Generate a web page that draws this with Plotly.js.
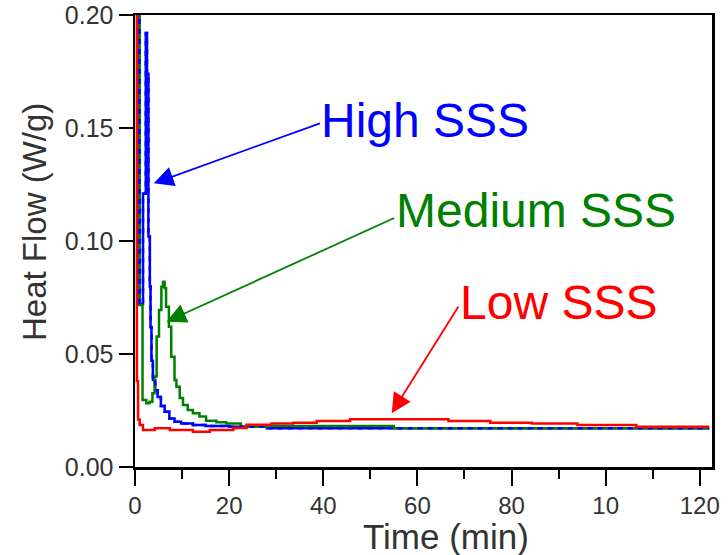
<!DOCTYPE html>
<html>
<head>
<meta charset="utf-8">
<script src="https://cdn.plot.ly/plotly-3.0.1.min.js"></script>
<style>html,body{margin:0;padding:0;background:#fff;}#chart{width:728px;height:555px;}</style>
</head>
<body>
<div id="chart"></div>
<script>
// Time (min) and heat flow (W/g) (step-wise instrument data)
const lowT   = [0.4, 0.4, 0.65, 1.0, 1.7, 4.2, 7.4, 12.3, 15.9, 20.9, 23.7, 29, 33.6, 38.6, 45.7, 66.6, 75.5, 84.3, 94, 106.5, 122];
const lowV   = [0.30, 0.038, 0.021, 0.0186, 0.0164, 0.0172, 0.0164, 0.0156, 0.0164, 0.0173, 0.0187, 0.0192, 0.0196, 0.0204, 0.0211, 0.0204, 0.0196, 0.0192, 0.0186, 0.0178, 0.0178];

const medT   = [0.95, 0.95, 1.6, 2.4, 3.1, 3.7, 4.15, 4.6, 5.1, 5.6, 5.95, 6.3, 6.6, 7.2, 7.7, 8.4, 8.8, 9.5, 10.2, 11.2, 12.3, 13.7, 15.1, 17.3, 19.4, 22.5, 28, 55, 122];
const medV   = [0.30, 0.0717, 0.0296, 0.0282, 0.0289, 0.0326, 0.040, 0.0577, 0.0695, 0.0798, 0.0820, 0.0791, 0.0709, 0.0621, 0.0488, 0.0385, 0.0355, 0.0305, 0.0274, 0.0252, 0.0238, 0.0223, 0.0205, 0.0198, 0.0193, 0.0178, 0.0181, 0.0171, 0.0171];

const highT  = [0.95, 0.95, 1.7, 2.3, 2.55, 2.85, 3.15, 3.3, 3.5, 3.8, 4.3, 4.8, 5.5, 6.3, 7.3, 8.4, 9.8, 12.3, 15, 20, 28, 122];
const highV  = [0.30, 0.072, 0.121, 0.192, 0.174, 0.102, 0.080, 0.062, 0.047, 0.0385, 0.034, 0.031, 0.027, 0.0245, 0.0215, 0.020, 0.0193, 0.0186, 0.0181, 0.0178, 0.0171, 0.0171];

const xTickVals = [0, 20, 40, 60, 80, 100, 120];
const xTickText = ['0', '20', '40', '60', '80', '10', '120'];
const xMinorVals = [10, 30, 50, 70, 90, 110];
const yTickVals = [0, 0.05, 0.10, 0.15, 0.20];

const seriesNames = ['High SSS', 'Medium SSS', 'Low SSS'];
const seriesColors = ['#0000ff', '#008000', '#ff0000'];
const xTitle = 'Time (min)';
const yTitle = 'Heat Flow (W/g)';

const FONT = 'Liberation Sans, Arial, Helvetica, sans-serif';
const lw = 2.5;

const traces = [
  {x: highT, y: highV, mode: 'lines', line: {color: seriesColors[0], width: lw, shape: 'hv'}, name: seriesNames[0]},
  {x: medT, y: medV, mode: 'lines', line: {color: seriesColors[1], width: lw, shape: 'hv'}, name: seriesNames[1]},
  {x: highT, y: highV, mode: 'lines', line: {color: seriesColors[0], width: lw, shape: 'hv', dash: '5px,5px'}, name: seriesNames[0] + ' overlay', hoverinfo: 'skip'},
  {x: lowT, y: lowV, mode: 'lines', line: {color: seriesColors[2], width: lw, shape: 'hv'}, name: seriesNames[2]}
];

function label(i, x, y) {
  return {x: x, y: y, xref: 'x', yref: 'y', text: seriesNames[i], showarrow: false,
          xanchor: 'left', yanchor: 'middle', font: {family: FONT, size: 48, color: seriesColors[i]}};
}
function arrow(i, x, y, ax, ay) {
  return {x: x, y: y, xref: 'x', yref: 'y', text: '', showarrow: true, ax: ax, ay: ay,
          arrowhead: 2, arrowsize: 2.2, arrowwidth: 1.8, arrowcolor: seriesColors[i], standoff: 0};
}

const layout = {
  width: 728, height: 555,
  margin: {l: 135, r: 16, t: 15, b: 88},
  paper_bgcolor: '#fff', plot_bgcolor: '#fff',
  showlegend: false,
  font: {family: FONT, color: '#333'},
  xaxis: {
    range: [0, 122.6], showgrid: false, zeroline: false,
    showline: true, linecolor: '#000', linewidth: 2.5, mirror: true,
    ticks: 'outside', ticklen: 16, tickwidth: 2, tickcolor: '#000',
    tickmode: 'array', tickvals: xTickVals, ticktext: xTickText,
    tickfont: {family: FONT, size: 24, color: '#333'},
    minor: {tickmode: 'array', tickvals: xMinorVals, ticks: 'outside', ticklen: 9, tickwidth: 2, tickcolor: '#000', showgrid: false}
  },
  yaxis: {
    range: [0, 0.2], showgrid: false, zeroline: false,
    showline: true, linecolor: '#000', linewidth: 2.5, mirror: true,
    ticks: 'outside', ticklen: 14, tickwidth: 2, tickcolor: '#000',
    tickmode: 'array', tickvals: yTickVals, tickformat: '.2f',
    tickfont: {family: FONT, size: 25, color: '#333'}
  },
  annotations: [
    {x: 0.539, y: -0.153, xref: 'paper', yref: 'paper', text: xTitle, showarrow: false,
     xanchor: 'center', yanchor: 'middle', font: {family: FONT, size: 35, color: '#333'}},
    {x: -0.175, y: 0.542, xref: 'paper', yref: 'paper', text: yTitle, showarrow: false, textangle: -90,
     xanchor: 'center', yanchor: 'middle', font: {family: FONT, size: 33, color: '#333'}},
    label(0, 39.2, 0.1531), label(1, 55.0, 0.1136), label(2, 68.7, 0.0728),
    arrow(0, 3.98, 0.1255, 167.7, -60.6),
    arrow(1, 6.68, 0.0643, 229.3, -104.4),
    arrow(2, 54.55, 0.0238, 67.6, -108.3)
  ]
};

Plotly.newPlot('chart', traces, layout, {displayModeBar: false, staticPlot: true});
</script>
</body>
</html>
